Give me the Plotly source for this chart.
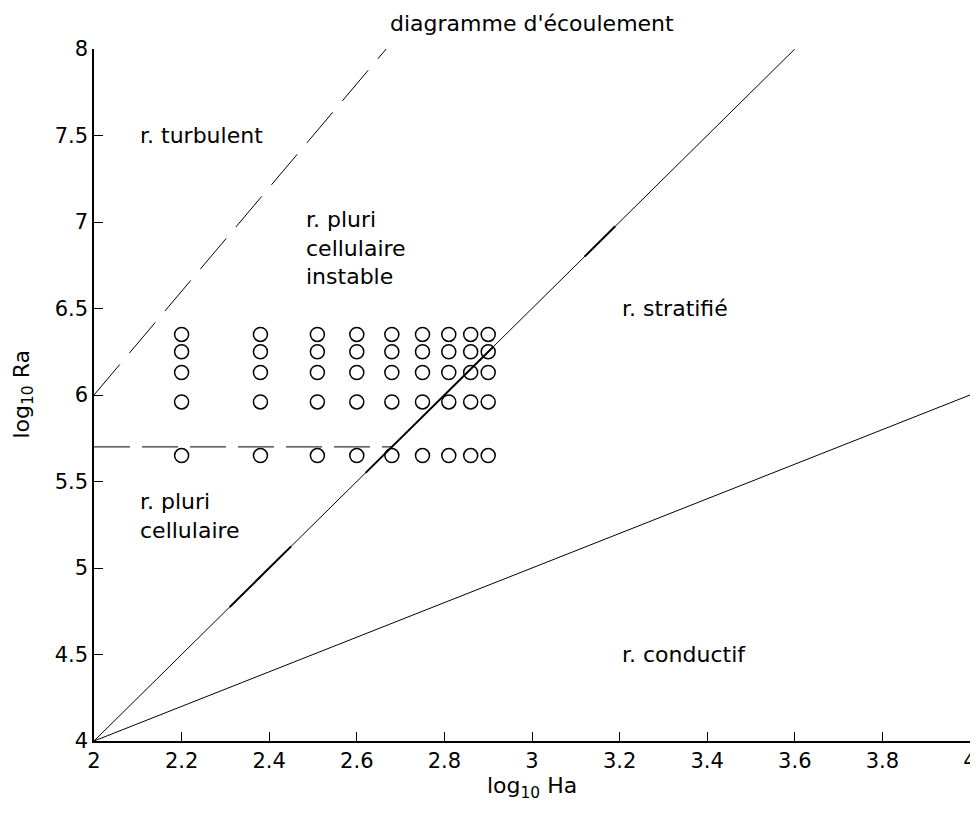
import plotly.graph_objects as go

# ---- data ----
ha_log = [2.20, 2.38, 2.51, 2.60, 2.68, 2.75, 2.81, 2.86, 2.90]
ra_log = [5.65, 5.96, 6.13, 6.25, 6.35]

strat_x = [2.0, 3.6]
strat_y = [4.0, 8.0]
# portions of the stratified boundary that are drawn heavier in the original
strat_bold_x = [2.31, 2.45, None, 2.62, 2.91, None, 3.12, 3.19]
strat_bold_y = [4.775, 5.125, None, 5.55, 6.275, None, 6.80, 6.975]
cond_x = [2.0, 4.0]
cond_y = [4.0, 6.0]
turb_x = [2.0, 2.667]
turb_y = [6.0, 8.0]
pluri_x = [2.0, 2.68]
pluri_y = [5.7, 5.7]

x_ticks = [2.0, 2.2, 2.4, 2.6, 2.8, 3.0, 3.2, 3.4, 3.6, 3.8, 4.0]
x_ticktext = ["2", "2.2", "2.4", "2.6", "2.8", "3", "3.2", "3.4", "3.6", "3.8", "4"]
y_ticks = [4.0, 4.5, 5.0, 5.5, 6.0, 6.5, 7.0, 7.5, 8.0]
y_ticktext = ["4", "4.5", "5", "5.5", "6", "6.5", "7", "7.5", "8"]

region_labels = ["r. turbulent", "r. pluri<br>cellulaire<br>instable", "r. stratifié",
                 "r. pluri<br>cellulaire", "r. conductif"]
region_x = [2.1, 2.48, 3.2, 2.1, 3.2]
region_y = [7.5, 6.85, 6.5, 5.3, 4.5]

title_text = "diagramme d'écoulement"

FONT = "DejaVu Sans"
FS = 22
TFS = 21

pts_x = [x for x in ha_log for _ in ra_log]
pts_y = [y for _ in ha_log for y in ra_log]

fig = go.Figure()
fig.add_trace(go.Scatter(x=strat_x, y=strat_y, mode="lines",
                         line=dict(color="black", width=1), showlegend=False))
fig.add_trace(go.Scatter(x=strat_bold_x, y=strat_bold_y, mode="lines",
                         line=dict(color="black", width=2), connectgaps=False,
                         showlegend=False))
fig.add_trace(go.Scatter(x=cond_x, y=cond_y, mode="lines",
                         line=dict(color="black", width=1), showlegend=False))
fig.add_trace(go.Scatter(x=turb_x, y=turb_y, mode="lines",
                         line=dict(color="black", width=1, dash="40px,15px"), showlegend=False))
fig.add_trace(go.Scatter(x=pluri_x, y=pluri_y, mode="lines",
                         line=dict(color="black", width=1, dash="36px,12px"), showlegend=False))
fig.add_trace(go.Scatter(x=pts_x, y=pts_y, mode="markers",
                         marker=dict(symbol="circle-open", size=14, color="black",
                                     line=dict(color="black", width=1.5)),
                         showlegend=False))

annotations = []
for t, x, y in zip(region_labels, region_x, region_y):
    annotations.append(dict(x=x, y=y, xref="x", yref="y", text=t, showarrow=False,
                            xanchor="left", yanchor="middle", align="left",
                            font=dict(family=FONT, size=FS, color="black")))
annotations.append(dict(x=0.5, y=1, xref="paper", yref="paper", text=title_text,
                        showarrow=False, xanchor="center", yanchor="bottom", yshift=11,
                        font=dict(family=FONT, size=FS, color="black")))
annotations.append(dict(x=0.5, y=0, xref="paper", yref="paper", text="log<sub>10</sub> Ha",
                        showarrow=False, xanchor="center", yanchor="top", yshift=-30,
                        font=dict(family=FONT, size=FS, color="black")))
annotations.append(dict(x=0, y=0.5, xref="paper", yref="paper", text="log<sub>10</sub> Ra",
                        showarrow=False, xanchor="right", yanchor="middle", xshift=-55,
                        textangle=-90,
                        font=dict(family=FONT, size=FS, color="black")))

# page body has an 8px default margin; the figure is sized so the plot area
# lands at the same page pixels as the reference
fig.update_layout(
    width=970, height=814,
    margin=dict(l=86, r=8, t=41, b=81),
    paper_bgcolor="white", plot_bgcolor="white",
    font=dict(family=FONT, size=TFS, color="black"),
    annotations=annotations,
    xaxis=dict(range=[2, 4], tickvals=x_ticks, ticktext=x_ticktext,
               ticks="inside", ticklen=9, tickcolor="black", tickwidth=1,
               showline=True, linecolor="black", linewidth=1.5, mirror=False,
               showgrid=False, zeroline=False, automargin=False,
               tickfont=dict(family=FONT, size=TFS, color="black")),
    yaxis=dict(range=[4, 8], tickvals=y_ticks, ticktext=y_ticktext,
               ticks="inside", ticklen=9, tickcolor="black", tickwidth=1,
               showline=True, linecolor="black", linewidth=1.5, mirror=False,
               showgrid=False, zeroline=False, automargin=False,
               tickfont=dict(family=FONT, size=TFS, color="black")),
)

fig.write_html("out.html")
